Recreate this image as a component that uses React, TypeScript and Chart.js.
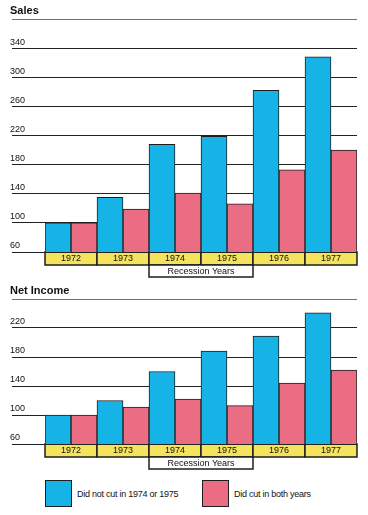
import React, { useEffect, useRef } from 'react';
import { Chart, registerables } from 'chart.js';

Chart.register(...registerables);

const years = ['1972', '1973', '1974', '1975', '1976', '1977'];
const recessionYears = ['1974', '1975'];
const salesNotCut = [100, 135, 208, 219, 282, 328];
const salesCut = [100, 119, 141, 126, 173, 200];
const incomeNotCut = [100, 120, 160, 188, 209, 241];
const incomeCut = [100, 111, 122, 113, 144, 162];
const seriesLabels = ['Did not cut in 1974 or 1975', 'Did cut in both years'];
const axisTitle = 'Recession Years';

const FONT = '"Liberation Sans", Arial, Helvetica, sans-serif';
const BLUE = '#16b3e6';
const PINK = '#eb6d83';
const YELLOW = '#f4e35c';
const INK = '#1e1e1e';

const bandPlugin = {
  id: 'yearBand',
  beforeDraw(chart: any) {
    const x = chart.scales.x;
    const area = chart.chartArea;
    const ctx = chart.ctx;
    const step = x.getPixelForValue(1) - x.getPixelForValue(0);
    const top = area.bottom;
    const bandH = 13;
    const bottom = x.bottom;
    ctx.save();
    ctx.lineWidth = 1.5;
    ctx.strokeStyle = INK;
    for (let i = 0; i < years.length; i++) {
      const c = x.getPixelForValue(i);
      ctx.fillStyle = YELLOW;
      ctx.fillRect(c - step / 2, top, step, bandH);
      ctx.strokeRect(c - step / 2, top, step, bandH);
    }
    const i0 = years.indexOf(recessionYears[0]);
    const i1 = years.indexOf(recessionYears[recessionYears.length - 1]);
    const l = x.getPixelForValue(i0) - step / 2;
    const r = x.getPixelForValue(i1) + step / 2;
    ctx.fillStyle = '#ffffff';
    ctx.fillRect(l, top + bandH, r - l, bottom - top - bandH);
    ctx.strokeRect(l, top + bandH, r - l, bottom - top - bandH);
    ctx.restore();
  },
};

function BarBlock(props: { title: string; a: number[]; b: number[]; max: number; top: number; height: number }) {
  const ref = useRef<HTMLCanvasElement | null>(null);
  useEffect(() => {
    if (!ref.current) return;
    const max = props.max;
    const chart = new Chart(ref.current, {
      type: 'bar',
      data: {
        labels: years,
        datasets: [
          { label: seriesLabels[0], data: props.a, backgroundColor: BLUE, borderColor: INK, borderWidth: 1, borderSkipped: false },
          { label: seriesLabels[1], data: props.b, backgroundColor: PINK, borderColor: INK, borderWidth: 1, borderSkipped: false },
        ],
      },
      options: {
        responsive: false,
        animation: false,
        barPercentage: 1,
        categoryPercentage: 1,
        layout: { padding: { left: 10, right: 11, top: 0, bottom: 3 } },
        plugins: {
          legend: { display: false },
          tooltip: { enabled: false },
          title: {
            display: true,
            text: props.title,
            align: 'start',
            color: '#111',
            font: { family: FONT, size: 11, weight: 'bold' },
            padding: { top: 4, bottom: 1.8 },
          },
        },
        scales: {
          x: {
            grid: { display: false, drawTicks: false },
            border: { display: false },
            ticks: { color: '#111', font: { family: FONT, size: 9 }, padding: 1, maxRotation: 0, autoSkip: false },
            title: { display: true, text: axisTitle, color: '#111', font: { family: FONT, size: 9 }, padding: { top: 2, bottom: 0 } },
            afterFit: (s: any) => { s.height = 25; },
          },
          y: {
            min: 60,
            max: max,
            border: { display: false },
            grid: {
              color: (c: any) => (c.tick && c.tick.value === max ? '#707070' : '#222'),
              lineWidth: 1,
              drawTicks: true,
              tickLength: 33,
            },
            ticks: {
              stepSize: 40,
              color: '#111',
              font: { family: FONT, size: 9 },
              crossAlign: 'far',
              padding: 0,
              labelOffset: -6,
              callback: (v: any) => (v === max ? '' : String(v)),
            },
            afterFit: (s: any) => { s.width = 35; },
          },
        },
      },
      plugins: [bandPlugin],
    } as any);
    return () => chart.destroy();
  }, []);
  return (
    <div style={{ position: 'absolute', left: 0, top: props.top, width: 368, height: props.height }}>
      <canvas ref={ref} width={368} height={props.height} style={{ display: 'block' }} />
    </div>
  );
}

function LegendItem(props: { color: string; text: string; left: number }) {
  return (
    <div style={{ position: 'absolute', left: props.left, top: 480, height: 27, display: 'flex', alignItems: 'center' }}>
      <div style={{ width: 25, height: 25, background: props.color, border: '1px solid ' + INK }} />
      <span style={{ marginLeft: 5, fontFamily: FONT, fontSize: 9, letterSpacing: '-0.25px', color: '#111', whiteSpace: 'nowrap' }}>
        {props.text}
      </span>
    </div>
  );
}

export default function App() {
  return (
    <div style={{ position: 'absolute', left: 0, top: 0, width: 368, height: 515, background: '#fff' }}>
      <BarBlock title="Sales" a={salesNotCut} b={salesCut} max={380} top={0} height={280} />
      <BarBlock title="Net Income" a={incomeNotCut} b={incomeCut} max={260} top={280} height={192} />
      <LegendItem color={BLUE} text={seriesLabels[0]} left={45} />
      <LegendItem color={PINK} text={seriesLabels[1]} left={202} />
    </div>
  );
}
